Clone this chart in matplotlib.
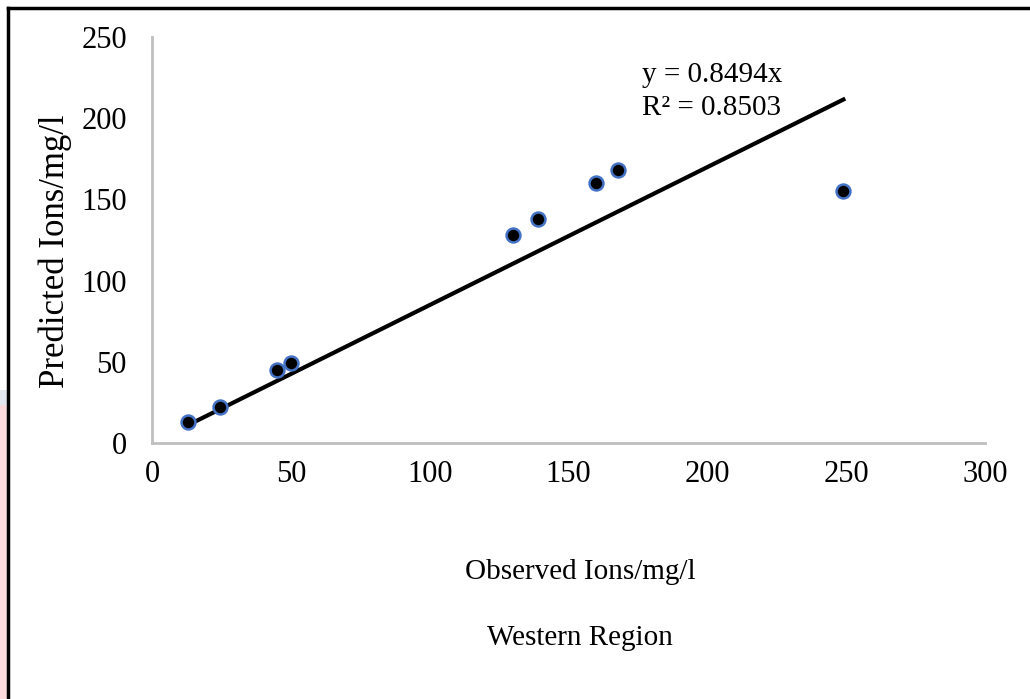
import matplotlib.pyplot as plt
import numpy as np
from matplotlib.lines import Line2D
from matplotlib.patches import Rectangle

# Observed vs predicted ion concentrations (mg/l)
observed = [13, 24.5, 45, 50, 130, 139, 160, 168, 249]
predicted = [13, 22, 45, 49, 128, 138, 160, 168, 155]
slope = 0.8494
r2 = 0.8503
x_ticks = [0, 50, 100, 150, 200, 250, 300]
y_ticks = [0, 50, 100, 150, 200, 250]

plt.rcParams['font.family'] = ['Liberation Serif', 'DejaVu Serif']

W, H = 1030, 699
fig = plt.figure(figsize=(W / 100, H / 100), dpi=100)
ax = fig.add_axes([152 / W, 1 - 443 / H, (985 - 152) / W, (443 - 37) / H])

# trendline through origin, drawn over the data range
xs = np.array([min(observed), max(observed)])
ax.plot(xs, slope * xs, color='black', lw=3, zorder=2)
ax.plot(observed, predicted, 'o', ms=10, mfc='black', mec='#4472C4', mew=1.8, zorder=3)

ax.text(176.5, 226.5, 'y = %.4fx' % slope, fontsize=21, va='center')
ax.text(176.5, 206, 'R² = %.4f' % r2, fontsize=21, va='center')

ax.set_xlim(0, 300)
ax.set_ylim(0, 250)
ax.set_xticks(x_ticks)
ax.set_yticks(y_ticks)
ax.tick_params(length=0, labelsize=22)
ax.tick_params(axis='x', pad=12)
ax.tick_params(axis='y', pad=18)
for s in ['top', 'right']:
    ax.spines[s].set_visible(False)
for s in ['left', 'bottom']:
    ax.spines[s].set_color('#BFBFBF')
    ax.spines[s].set_linewidth(2)

fig.text(55 / W, 1 - 251 / H, 'Predicted Ions/mg/l', fontsize=25, rotation=90,
         ha='center', va='center')
fig.text(580 / W, 1 - 572 / H, 'Observed Ions/mg/l', fontsize=21, ha='center', va='center')
fig.text(580 / W, 1 - 638 / H, 'Western Region', fontsize=21, ha='center', va='center')

# page edge and outer frame
fig.add_artist(Rectangle((0, 0), 7 / W, 1 - 405 / H, transform=fig.transFigure,
                         color='#FADADD', lw=0))
fig.add_artist(Rectangle((0, 1 - 405 / H), 7 / W, 15 / H, transform=fig.transFigure,
                         color='#E3E8F0', lw=0))
fig.add_artist(Line2D([8 / W, 8 / W], [0, 1 - 8 / H], transform=fig.transFigure,
                      color='black', lw=2.5))
fig.add_artist(Line2D([8 / W, 1], [1 - 8 / H, 1 - 8 / H], transform=fig.transFigure,
                      color='black', lw=2.5))

fig.savefig('out.png', dpi=100)
